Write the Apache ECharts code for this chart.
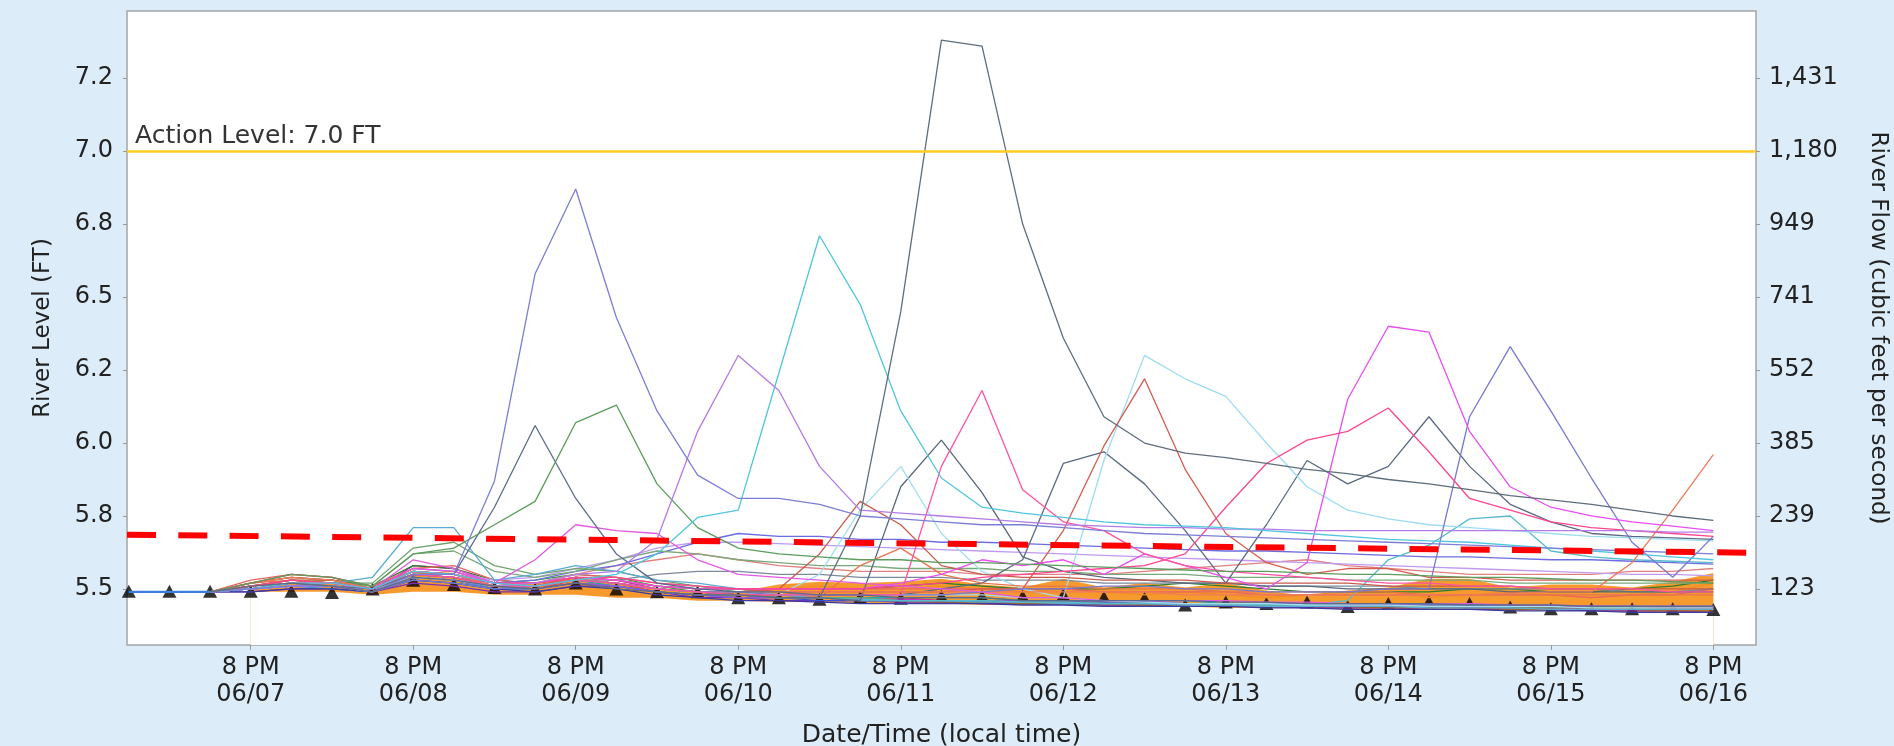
<!DOCTYPE html>
<html>
<head>
<meta charset="utf-8">
<title>River Level Forecast</title>
<script src="https://cdn.jsdelivr.net/npm/echarts@6/dist/echarts.min.js"></script>
<style>
  html, body { margin: 0; padding: 0; background: #dcecf9; }
  #chart { width: 1894px; height: 746px; }
</style>
</head>
<body>
<div id="chart"></div>
<script>
// forecast steps, hours after 06/07 00:00 (every 6 h)
const hours = [2, 8, 14, 20, 26, 32, 38, 44, 50, 56,
  62, 68, 74, 80, 86, 92, 98, 104, 110, 116,
  122, 128, 134, 140, 146, 152, 158, 164, 170, 176,
  182, 188, 194, 200, 206, 212, 218, 224, 230, 236];

// x axis ticks (8 PM each day)
const timeTicks = [20, 44, 68, 92, 116, 140, 164, 188, 212, 236];
const timeTickLabels = ['8 PM\n06/07', '8 PM\n06/08', '8 PM\n06/09', '8 PM\n06/10', '8 PM\n06/11',
  '8 PM\n06/12', '8 PM\n06/13', '8 PM\n06/14', '8 PM\n06/15', '8 PM\n06/16'];

// left axis (stage) and right axis (flow from rating curve) share tick positions
const stageTicks = [5.5, 5.75, 6.0, 6.25, 6.5, 6.75, 7.0, 7.25];
const stageTickLabels = ['5.5', '5.8', '6.0', '6.2', '6.5', '6.8', '7.0', '7.2'];
const flowTickLabels = ['123', '239', '385', '552', '741', '949', '1,180', '1,431'];

const actionLevel = 7.0;

// observed stage before forecast
const observed = [5.49, 5.49, 5.49];

// black triangle markers
const triangles = [5.492, 5.492, 5.492, 5.492, 5.492, 5.488, 5.50, 5.53, 5.515, 5.505,
  5.50, 5.52, 5.50, 5.49, 5.49, 5.47, 5.47, 5.465, 5.472, 5.468,
  5.475, 5.475, 5.475, 5.48, 5.472, 5.468, 5.445, 5.455, 5.45, 5.455,
  5.44, 5.45, 5.455, 5.45, 5.438, 5.432, 5.432, 5.432, 5.432, 5.43];

// orange band (lower / upper)
const bandLow = [null, null, null, 5.49, 5.49, 5.49, 5.48, 5.49, 5.49, 5.48,
  5.48, 5.48, 5.47, 5.47, 5.46, 5.46, 5.455, 5.455, 5.45, 5.45,
  5.45, 5.445, 5.445, 5.445, 5.44, 5.44, 5.44, 5.435, 5.435, 5.435,
  5.43, 5.43, 5.43, 5.43, 5.425, 5.425, 5.425, 5.42, 5.42, 5.42];
const bandHigh = [null, null, null, 5.50, 5.52, 5.52, 5.50, 5.55, 5.54, 5.51,
  5.52, 5.54, 5.52, 5.50, 5.49, 5.49, 5.515, 5.525, 5.52, 5.525,
  5.535, 5.515, 5.505, 5.535, 5.505, 5.52, 5.505, 5.52, 5.495, 5.475,
  5.495, 5.505, 5.535, 5.535, 5.505, 5.515, 5.515, 5.505, 5.525, 5.555];

// red dashed trend, start and end of the window
const trendLevels = [5.686, 5.624];

// ensemble members
const slatePeak = [null, null, 5.49, 5.51, 5.52, 5.51, 5.49, 5.54, 5.53, 5.51,
  5.50, 5.52, 5.50, 5.49, 5.48, 5.48, 5.47, 5.47, 5.75, 6.45,
  7.38, 7.36, 6.75, 6.36, 6.09, 6.00, 5.965, 5.95, 5.93, 5.91,
  5.895, 5.875, 5.86, 5.84, 5.82, 5.805, 5.79, 5.77, 5.75, 5.735];
const violetPeak = [null, null, 5.49, 5.50, 5.51, 5.51, 5.49, 5.55, 5.55, 5.87,
  6.58, 6.87, 6.43, 6.11, 5.89, 5.81, 5.81, 5.79, 5.75, 5.74,
  5.73, 5.72, 5.72, 5.71, 5.70, 5.69, 5.685, 5.68, 5.675, 5.67,
  5.665, 5.66, 5.655, 5.65, 5.645, 5.64, 5.635, 5.63, 5.625, 5.62];
const cyanPeak = [null, null, 5.49, 5.50, 5.52, 5.52, 5.50, 5.56, 5.55, 5.52,
  5.51, 5.53, 5.55, 5.62, 5.745, 5.77, 6.24, 6.71, 6.475, 6.11,
  5.88, 5.78, 5.76, 5.745, 5.73, 5.72, 5.715, 5.71, 5.70, 5.69,
  5.68, 5.67, 5.665, 5.66, 5.65, 5.64, 5.63, 5.62, 5.61, 5.60];
const purplePeak = [null, null, 5.49, 5.50, 5.51, 5.51, 5.49, 5.54, 5.53, 5.51,
  5.52, 5.55, 5.56, 5.67, 6.04, 6.30, 6.18, 5.92, 5.77, 5.76,
  5.75, 5.74, 5.73, 5.72, 5.715, 5.71, 5.71, 5.705, 5.705, 5.70,
  5.70, 5.70, 5.70, 5.70, 5.70, 5.70, 5.70, 5.70, 5.695, 5.695];
const greenPeak = [null, null, 5.49, 5.52, 5.55, 5.54, 5.51, 5.62, 5.64, 5.72,
  5.80, 6.07, 6.13, 5.86, 5.71, 5.64, 5.62, 5.61, 5.60, 5.60,
  5.59, 5.59, 5.585, 5.58, 5.575, 5.57, 5.565, 5.56, 5.56, 5.555,
  5.55, 5.55, 5.545, 5.54, 5.54, 5.535, 5.53, 5.53, 5.525, 5.52];
const slateBlue = [null, null, 5.49, 5.50, 5.52, 5.51, 5.50, 5.55, 5.55, 5.78,
  6.06, 5.81, 5.62, 5.52, 5.50, 5.49, 5.49, 5.48, 5.48, 5.47,
  5.47, 5.47, 5.46, 5.46, 5.46, 5.46, 5.46, 5.455, 5.455, 5.45,
  5.45, 5.45, 5.45, 5.445, 5.445, 5.445, 5.44, 5.44, 5.44, 5.44];
const magentaBump = [null, null, 5.49, 5.50, 5.52, 5.51, 5.50, 5.60, 5.57, 5.52,
  5.60, 5.72, 5.70, 5.69, 5.60, 5.55, 5.54, 5.53, 5.52, 5.51,
  5.50, 5.49, 5.47, 5.47, 5.46, 5.46, 5.46, 5.46, 5.455, 5.455,
  5.45, 5.45, 5.45, 5.45, 5.445, 5.445, 5.44, 5.44, 5.44, 5.44];
const pinkPeak = [null, null, 5.49, 5.51, 5.52, 5.52, 5.50, 5.55, 5.54, 5.51,
  5.51, 5.53, 5.52, 5.50, 5.49, 5.48, 5.48, 5.48, 5.48, 5.48,
  5.92, 6.18, 5.84, 5.73, 5.70, 5.62, 5.58, 5.56, 5.55, 5.54,
  5.53, 5.52, 5.52, 5.51, 5.51, 5.50, 5.50, 5.50, 5.49, 5.49];
const pinkLate = [null, null, 5.49, 5.51, 5.53, 5.52, 5.50, 5.56, 5.55, 5.52,
  5.52, 5.54, 5.54, 5.52, 5.51, 5.50, 5.50, 5.50, 5.50, 5.51,
  5.52, 5.54, 5.55, 5.56, 5.57, 5.58, 5.62, 5.78, 5.93, 6.01,
  6.04, 6.12, 5.97, 5.81, 5.77, 5.73, 5.71, 5.70, 5.69, 5.68];
const magentaPeak = [null, null, 5.49, 5.50, 5.51, 5.51, 5.50, 5.57, 5.56, 5.52,
  5.52, 5.54, 5.53, 5.51, 5.50, 5.50, 5.50, 5.50, 5.50, 5.52,
  5.55, 5.60, 5.58, 5.60, 5.55, 5.62, 5.58, 5.54, 5.50, 5.59,
  6.15, 6.40, 6.38, 6.04, 5.85, 5.78, 5.75, 5.73, 5.715, 5.70];
const violetLate = [null, null, 5.49, 5.50, 5.51, 5.51, 5.49, 5.53, 5.52, 5.50,
  5.51, 5.53, 5.52, 5.50, 5.49, 5.49, 5.48, 5.48, 5.48, 5.48,
  5.48, 5.49, 5.50, 5.50, 5.51, 5.51, 5.50, 5.50, 5.49, 5.49,
  5.49, 5.50, 5.50, 6.09, 6.33, 6.11, 5.88, 5.66, 5.54, 5.68];
const orangeRise = [null, null, 5.49, 5.52, 5.54, 5.53, 5.50, 5.55, 5.55, 5.51,
  5.51, 5.53, 5.52, 5.50, 5.49, 5.49, 5.49, 5.49, 5.49, 5.49,
  5.49, 5.49, 5.49, 5.49, 5.49, 5.49, 5.48, 5.48, 5.48, 5.48,
  5.48, 5.48, 5.48, 5.48, 5.485, 5.49, 5.49, 5.59, 5.77, 5.96];
const redPeak = [null, null, 5.49, 5.52, 5.54, 5.53, 5.50, 5.56, 5.55, 5.51,
  5.51, 5.54, 5.53, 5.51, 5.50, 5.50, 5.49, 5.49, 5.49, 5.49,
  5.49, 5.50, 5.50, 5.70, 5.99, 6.22, 5.91, 5.69, 5.59, 5.55,
  5.57, 5.57, 5.54, 5.54, 5.53, 5.53, 5.53, 5.53, 5.53, 5.53];
const redBump = [null, null, 5.49, 5.51, 5.53, 5.52, 5.50, 5.55, 5.54, 5.51,
  5.51, 5.53, 5.52, 5.50, 5.49, 5.49, 5.50, 5.62, 5.80, 5.72,
  5.58, 5.55, 5.54, 5.54, 5.53, 5.53, 5.53, 5.52, 5.52, 5.52,
  5.52, 5.51, 5.51, 5.51, 5.51, 5.50, 5.50, 5.50, 5.50, 5.50];
const orangeBump = [null, null, 5.49, 5.52, 5.53, 5.52, 5.50, 5.56, 5.55, 5.52,
  5.51, 5.54, 5.53, 5.51, 5.50, 5.50, 5.49, 5.47, 5.58, 5.64,
  5.55, 5.52, 5.51, 5.51, 5.50, 5.50, 5.50, 5.49, 5.49, 5.49,
  5.49, 5.49, 5.48, 5.48, 5.48, 5.48, 5.48, 5.48, 5.48, 5.48];
const lightCyanPeak = [null, null, 5.49, 5.50, 5.51, 5.51, 5.50, 5.54, 5.53, 5.51,
  5.51, 5.53, 5.52, 5.50, 5.49, 5.49, 5.48, 5.48, 5.48, 5.48,
  5.48, 5.48, 5.47, 5.47, 5.94, 6.30, 6.22, 6.16, 6.00, 5.85,
  5.77, 5.74, 5.72, 5.71, 5.70, 5.69, 5.68, 5.675, 5.67, 5.665];
const lightCyanBump = [null, null, 5.49, 5.50, 5.51, 5.51, 5.50, 5.54, 5.53, 5.51,
  5.51, 5.53, 5.52, 5.50, 5.49, 5.49, 5.48, 5.55, 5.77, 5.92,
  5.69, 5.56, 5.50, 5.47, 5.46, 5.455, 5.45, 5.45, 5.45, 5.445,
  5.445, 5.445, 5.44, 5.44, 5.44, 5.44, 5.435, 5.435, 5.435, 5.435];
const slateBump = [null, null, 5.49, 5.50, 5.51, 5.51, 5.50, 5.54, 5.53, 5.51,
  5.51, 5.53, 5.52, 5.50, 5.49, 5.48, 5.47, 5.47, 5.46, 5.85,
  6.01, 5.83, 5.61, 5.56, 5.54, 5.53, 5.52, 5.52, 5.51, 5.51,
  5.50, 5.50, 5.50, 5.50, 5.49, 5.49, 5.49, 5.49, 5.49, 5.49];
const slateZigzag = [null, null, 5.49, 5.50, 5.51, 5.51, 5.50, 5.54, 5.53, 5.51,
  5.51, 5.53, 5.52, 5.50, 5.49, 5.49, 5.48, 5.48, 5.48, 5.48,
  5.50, 5.52, 5.60, 5.93, 5.97, 5.86, 5.70, 5.52, 5.72, 5.94,
  5.86, 5.92, 6.09, 5.92, 5.79, 5.73, 5.69, 5.68, 5.675, 5.67];
const cyanLate = [null, null, 5.49, 5.50, 5.52, 5.51, 5.50, 5.55, 5.54, 5.51,
  5.51, 5.53, 5.52, 5.50, 5.49, 5.48, 5.47, 5.47, 5.465, 5.46,
  5.46, 5.46, 5.455, 5.455, 5.45, 5.45, 5.45, 5.45, 5.445, 5.445,
  5.46, 5.60, 5.65, 5.74, 5.75, 5.63, 5.61, 5.60, 5.595, 5.59];
const steelEarly = [null, null, 5.49, 5.50, 5.52, 5.52, 5.54, 5.71, 5.71, 5.53,
  5.55, 5.58, 5.56, 5.53, 5.52, 5.50, 5.48, 5.47, 5.46, 5.46,
  5.46, 5.455, 5.455, 5.45, 5.45, 5.45, 5.445, 5.445, 5.44, 5.44,
  5.44, 5.44, 5.435, 5.435, 5.435, 5.43, 5.43, 5.43, 5.43, 5.43];
const sageEarly = [null, null, 5.49, 5.51, 5.53, 5.52, 5.52, 5.64, 5.66, 5.58,
  5.55, 5.57, 5.56, 5.53, 5.51, 5.49, 5.48, 5.47, 5.47, 5.46,
  5.46, 5.46, 5.455, 5.455, 5.45, 5.45, 5.45, 5.445, 5.445, 5.445,
  5.44, 5.44, 5.44, 5.44, 5.435, 5.435, 5.435, 5.435, 5.43, 5.43];
const sageMid = [null, null, 5.49, 5.51, 5.52, 5.52, 5.51, 5.62, 5.63, 5.56,
  5.54, 5.56, 5.60, 5.63, 5.62, 5.60, 5.59, 5.58, 5.58, 5.57,
  5.57, 5.57, 5.56, 5.56, 5.55, 5.55, 5.55, 5.54, 5.54, 5.54,
  5.53, 5.53, 5.53, 5.53, 5.52, 5.52, 5.52, 5.52, 5.52, 5.52];
const blueMid = [null, null, 5.49, 5.50, 5.51, 5.51, 5.50, 5.55, 5.54, 5.52,
  5.53, 5.56, 5.58, 5.62, 5.66, 5.69, 5.68, 5.68, 5.67, 5.67,
  5.66, 5.66, 5.655, 5.65, 5.645, 5.64, 5.635, 5.63, 5.63, 5.625,
  5.62, 5.615, 5.61, 5.61, 5.605, 5.60, 5.60, 5.595, 5.59, 5.585];
const lavenderMid = [null, null, 5.49, 5.50, 5.52, 5.51, 5.50, 5.56, 5.55, 5.53,
  5.54, 5.57, 5.60, 5.64, 5.66, 5.66, 5.655, 5.65, 5.645, 5.64,
  5.635, 5.63, 5.625, 5.62, 5.615, 5.61, 5.605, 5.60, 5.595, 5.59,
  5.585, 5.58, 5.575, 5.57, 5.565, 5.56, 5.555, 5.55, 5.55, 5.545];
const roseMid = [null, null, 5.49, 5.51, 5.53, 5.52, 5.50, 5.56, 5.55, 5.52,
  5.52, 5.55, 5.58, 5.60, 5.62, 5.60, 5.58, 5.57, 5.56, 5.56,
  5.56, 5.55, 5.55, 5.55, 5.55, 5.56, 5.57, 5.58, 5.59, 5.60,
  5.58, 5.57, 5.56, 5.55, 5.55, 5.55, 5.55, 5.56, 5.56, 5.57];
const grayMid = [null, null, 5.49, 5.50, 5.51, 5.51, 5.50, 5.54, 5.53, 5.51,
  5.51, 5.53, 5.53, 5.55, 5.56, 5.56, 5.55, 5.55, 5.54, 5.54,
  5.54, 5.53, 5.53, 5.53, 5.52, 5.52, 5.52, 5.52, 5.51, 5.51,
  5.51, 5.51, 5.50, 5.50, 5.50, 5.50, 5.50, 5.49, 5.49, 5.50];
const bgRed = [null, null, 5.49, 5.52, 5.55, 5.54, 5.50, 5.56, 5.55, 5.51,
  5.50, 5.53, 5.52, 5.49, 5.48, 5.48, 5.47, 5.47, 5.47, 5.46,
  5.46, 5.46, 5.46, 5.46, 5.45, 5.45, 5.45, 5.45, 5.45, 5.45,
  5.45, 5.44, 5.44, 5.44, 5.44, 5.44, 5.44, 5.44, 5.43, 5.43];
const bgPurple = [null, null, 5.49, 5.49, 5.50, 5.50, 5.49, 5.52, 5.51, 5.49,
  5.49, 5.51, 5.51, 5.49, 5.47, 5.47, 5.46, 5.46, 5.46, 5.455,
  5.455, 5.45, 5.45, 5.45, 5.445, 5.445, 5.44, 5.44, 5.44, 5.435,
  5.435, 5.435, 5.43, 5.43, 5.43, 5.43, 5.425, 5.425, 5.425, 5.42];
const bgBlue = [null, null, 5.49, 5.50, 5.51, 5.51, 5.49, 5.54, 5.53, 5.50,
  5.50, 5.52, 5.51, 5.49, 5.48, 5.47, 5.47, 5.46, 5.46, 5.46,
  5.46, 5.46, 5.45, 5.45, 5.45, 5.45, 5.45, 5.445, 5.445, 5.44,
  5.44, 5.44, 5.44, 5.435, 5.435, 5.435, 5.43, 5.43, 5.43, 5.43];
const bgGreen = [null, null, 5.49, 5.51, 5.53, 5.52, 5.50, 5.57, 5.56, 5.52,
  5.53, 5.55, 5.54, 5.51, 5.49, 5.48, 5.47, 5.47, 5.46, 5.46,
  5.46, 5.455, 5.455, 5.45, 5.45, 5.45, 5.445, 5.445, 5.445, 5.44,
  5.44, 5.44, 5.44, 5.435, 5.435, 5.435, 5.43, 5.43, 5.43, 5.43];
const bgCrimson = [null, null, 5.49, 5.51, 5.52, 5.52, 5.50, 5.55, 5.54, 5.51,
  5.51, 5.53, 5.52, 5.50, 5.49, 5.48, 5.48, 5.47, 5.47, 5.47,
  5.46, 5.46, 5.46, 5.46, 5.455, 5.455, 5.45, 5.45, 5.45, 5.45,
  5.445, 5.445, 5.445, 5.44, 5.44, 5.44, 5.44, 5.44, 5.435, 5.435];
const bgOrange = [null, null, 5.49, 5.50, 5.52, 5.53, 5.50, 5.55, 5.56, 5.52,
  5.52, 5.54, 5.53, 5.50, 5.49, 5.49, 5.50, 5.51, 5.50, 5.50,
  5.51, 5.50, 5.49, 5.50, 5.49, 5.48, 5.49, 5.48, 5.47, 5.48,
  5.49, 5.49, 5.47, 5.48, 5.49, 5.48, 5.47, 5.48, 5.49, 5.52];
const bgTeal = [null, null, 5.49, 5.50, 5.51, 5.51, 5.50, 5.53, 5.52, 5.50,
  5.51, 5.53, 5.51, 5.49, 5.48, 5.48, 5.47, 5.47, 5.47, 5.47,
  5.47, 5.47, 5.46, 5.46, 5.46, 5.46, 5.46, 5.45, 5.45, 5.45,
  5.45, 5.45, 5.45, 5.45, 5.44, 5.44, 5.44, 5.44, 5.44, 5.44];
const bgMagenta = [null, null, 5.49, 5.50, 5.52, 5.51, 5.49, 5.58, 5.57, 5.52,
  5.51, 5.54, 5.53, 5.50, 5.49, 5.48, 5.47, 5.47, 5.465, 5.465,
  5.46, 5.46, 5.455, 5.455, 5.45, 5.45, 5.45, 5.445, 5.445, 5.44,
  5.44, 5.44, 5.44, 5.435, 5.435, 5.435, 5.43, 5.43, 5.43, 5.43];
const bgBrown = [null, null, 5.49, 5.51, 5.53, 5.53, 5.51, 5.56, 5.55, 5.52,
  5.51, 5.53, 5.52, 5.50, 5.49, 5.48, 5.47, 5.47, 5.46, 5.46,
  5.455, 5.455, 5.45, 5.45, 5.45, 5.445, 5.445, 5.445, 5.44, 5.44,
  5.44, 5.435, 5.435, 5.435, 5.43, 5.43, 5.43, 5.43, 5.425, 5.425];
const bgNavy = [null, null, 5.49, 5.49, 5.50, 5.50, 5.49, 5.53, 5.52, 5.50,
  5.49, 5.51, 5.50, 5.48, 5.47, 5.46, 5.46, 5.455, 5.45, 5.45,
  5.45, 5.45, 5.445, 5.445, 5.44, 5.44, 5.44, 5.44, 5.435, 5.435,
  5.43, 5.43, 5.43, 5.43, 5.425, 5.425, 5.425, 5.42, 5.42, 5.42];
const bgDarkGreen = [null, null, 5.49, 5.52, 5.54, 5.53, 5.51, 5.58, 5.57, 5.53,
  5.52, 5.54, 5.53, 5.51, 5.50, 5.50, 5.50, 5.50, 5.50, 5.51,
  5.52, 5.51, 5.50, 5.50, 5.50, 5.51, 5.52, 5.51, 5.50, 5.49,
  5.49, 5.49, 5.49, 5.50, 5.50, 5.49, 5.49, 5.50, 5.51, 5.53];
const bgViolet = [null, null, 5.49, 5.50, 5.51, 5.52, 5.50, 5.55, 5.54, 5.51,
  5.50, 5.52, 5.51, 5.49, 5.48, 5.47, 5.47, 5.47, 5.46, 5.46,
  5.46, 5.46, 5.46, 5.46, 5.46, 5.46, 5.45, 5.45, 5.45, 5.45,
  5.45, 5.45, 5.44, 5.44, 5.44, 5.44, 5.44, 5.44, 5.44, 5.44];
const bgSalmon = [null, null, 5.49, 5.53, 5.55, 5.54, 5.51, 5.57, 5.58, 5.53,
  5.52, 5.55, 5.54, 5.52, 5.51, 5.50, 5.50, 5.50, 5.50, 5.50,
  5.50, 5.50, 5.50, 5.50, 5.49, 5.49, 5.49, 5.49, 5.48, 5.48,
  5.48, 5.48, 5.48, 5.48, 5.48, 5.48, 5.47, 5.48, 5.48, 5.50];
const bgSky = [null, null, 5.49, 5.50, 5.51, 5.50, 5.49, 5.54, 5.53, 5.50,
  5.50, 5.52, 5.51, 5.49, 5.48, 5.47, 5.47, 5.47, 5.47, 5.46,
  5.46, 5.46, 5.46, 5.455, 5.455, 5.455, 5.45, 5.45, 5.45, 5.45,
  5.45, 5.445, 5.445, 5.445, 5.44, 5.44, 5.44, 5.44, 5.44, 5.44];

// background members first, so the peaked ones sit on top
const members = [
  ['bgRed', '#e04848', bgRed], ['bgPurple', '#7a30b4', bgPurple], ['bgBlue', '#3452d8', bgBlue],
  ['bgGreen', '#3c9c3c', bgGreen], ['bgCrimson', '#d02454', bgCrimson], ['bgOrange', '#f08c24', bgOrange],
  ['bgTeal', '#24a8a8', bgTeal], ['bgMagenta', '#c232ca', bgMagenta], ['bgBrown', '#a2622c', bgBrown],
  ['bgDarkGreen', '#2f7c2f', bgDarkGreen], ['bgSalmon', '#e86464', bgSalmon], ['bgSky', '#4292e2', bgSky],
  ['bgViolet', '#9a52da', bgViolet], ['bgNavy', '#3a3aa4', bgNavy],
  ['grayMid', '#7a8a9a', grayMid], ['roseMid', '#e08080', roseMid], ['lavenderMid', '#c09af0', lavenderMid],
  ['blueMid', '#6c6ce0', blueMid], ['sageMid', '#7aa87a', sageMid], ['sageEarly', '#6ea46e', sageEarly],
  ['steelEarly', '#5aaad2', steelEarly], ['cyanLate', '#56bccc', cyanLate], ['slateZigzag', '#5a6a82', slateZigzag],
  ['slateBump', '#56687a', slateBump], ['lightCyanBump', '#a4def0', lightCyanBump],
  ['lightCyanPeak', '#9edcf2', lightCyanPeak], ['orangeBump', '#e8744c', orangeBump], ['redBump', '#c85a4c', redBump],
  ['redPeak', '#d65c4e', redPeak], ['orangeRise', '#f07a5a', orangeRise], ['violetLate', '#7878d2', violetLate],
  ['magentaPeak', '#e84ef0', magentaPeak], ['pinkLate', '#ff4590', pinkLate], ['pinkPeak', '#ff52a2', pinkPeak],
  ['magentaBump', '#e25ae2', magentaBump], ['slateBlue', '#5b6b8c', slateBlue], ['greenPeak', '#5c9c5c', greenPeak],
  ['purplePeak', '#b47be6', purplePeak], ['cyanPeak', '#4fc6de', cyanPeak], ['violetPeak', '#7c7ed6', violetPeak],
  ['slatePeak', '#5e6e7c', slatePeak]
];

// visible window of the plot (hours) and stage range
const xMin = 1.73, xMax = 242.3;
const yMin = 5.308, yMax = 7.48;

const font = 'DejaVu Sans';
const textColor = '#222';

function toPairs(values) {
  return values.map((v, k) => [hours[k], v]);
}

var myChart = echarts.init(document.getElementById('chart'));

const memberSeries = members.map(([name, color, values]) => ({
  name: name,
  type: 'line',
  z: 4,
  data: toPairs(values),
  symbol: 'none',
  silent: true,
  lineStyle: { color: color, width: 1.3 },
  itemStyle: { color: color }
}));

myChart.setOption({
  animation: false,
  backgroundColor: '#dcecf9',
  textStyle: { fontFamily: font },
  grid: {
    left: 127, right: 138, top: 11, bottom: 101,
    outerBoundsMode: 'none',
    show: true, backgroundColor: '#ffffff',
    borderColor: '#a4a4a4', borderWidth: 1.5
  },
  xAxis: {
    type: 'value', min: xMin, max: xMax,
    name: 'Date/Time (local time)', nameLocation: 'middle', nameGap: 78,
    nameTextStyle: { fontSize: 25, color: textColor, fontFamily: font },
    axisLine: { show: false },
    splitLine: { show: false },
    axisTick: { show: true, customValues: timeTicks, length: 5, lineStyle: { color: '#999' } },
    axisLabel: {
      customValues: timeTicks,
      formatter: v => timeTickLabels[timeTicks.indexOf(v)],
      fontSize: 24, lineHeight: 27, color: textColor, margin: 9, fontFamily: font
    }
  },
  yAxis: [
    {
      type: 'value', position: 'left', min: yMin, max: yMax,
      name: 'River Level (FT)', nameLocation: 'middle', nameRotate: 90, nameGap: 72,
      nameTextStyle: { fontSize: 23, color: textColor, fontFamily: font },
      axisLine: { show: false },
      splitLine: { show: false },
      axisTick: { show: true, customValues: stageTicks, length: 4, lineStyle: { color: '#999' } },
      axisLabel: {
        customValues: stageTicks,
        formatter: v => stageTickLabels[stageTicks.indexOf(v)],
        fontSize: 24, color: textColor, margin: 14, fontFamily: font
      }
    },
    {
      type: 'value', position: 'right', min: yMin, max: yMax,
      name: 'River Flow (cubic feet per second)', nameLocation: 'middle', nameRotate: -90, nameGap: 110,
      nameTextStyle: { fontSize: 23, color: textColor, fontFamily: font },
      axisLine: { show: false },
      splitLine: { show: false },
      axisTick: { show: true, customValues: stageTicks, length: 4, lineStyle: { color: '#999' } },
      axisLabel: {
        customValues: stageTicks,
        formatter: v => flowTickLabels[stageTicks.indexOf(v)],
        fontSize: 24, color: textColor, margin: 13, fontFamily: font
      }
    }
  ],
  series: [
    // orange up to the band top, then white up to the band bottom
    {
      name: 'bandTop', type: 'line', z: 1, symbol: 'none', silent: true,
      data: toPairs(bandHigh),
      lineStyle: { opacity: 0 },
      areaStyle: { color: '#f79a2e', opacity: 1, origin: 'start' }
    },
    {
      name: 'bandBottom', type: 'line', z: 1, symbol: 'none', silent: true,
      data: toPairs(bandLow),
      lineStyle: { opacity: 0 },
      areaStyle: { color: '#ffffff', opacity: 1, origin: 'start' }
    },
    {
      name: 'triangles', type: 'scatter', z: 3, silent: true,
      data: toPairs(triangles),
      symbol: 'triangle', symbolSize: [14, 13],
      itemStyle: { color: '#000000' }
    },
    {
      name: 'observed', type: 'line', z: 4, symbol: 'none', silent: true,
      data: toPairs(observed),
      lineStyle: { color: '#3b7fdc', width: 2.2 }
    },
    ...memberSeries,
    {
      name: 'trend', type: 'line', z: 5, symbol: 'none', silent: true,
      data: [[xMin, trendLevels[0]], [xMax, trendLevels[1]]],
      lineStyle: { color: '#ff0000', width: 6, type: [29, 22.3] },
      markLine: {
        silent: true,
        symbol: 'none',
        data: [{ yAxis: actionLevel }],
        lineStyle: { color: '#ffcc22', width: 2.5, type: 'solid' },
        label: {
          formatter: 'Action Level: 7.0 FT',
          position: 'insideStartTop',
          fontSize: 25, color: '#333', fontFamily: font,
          distance: [8, 2]
        }
      }
    }
  ]
});
</script>
</body>
</html>
